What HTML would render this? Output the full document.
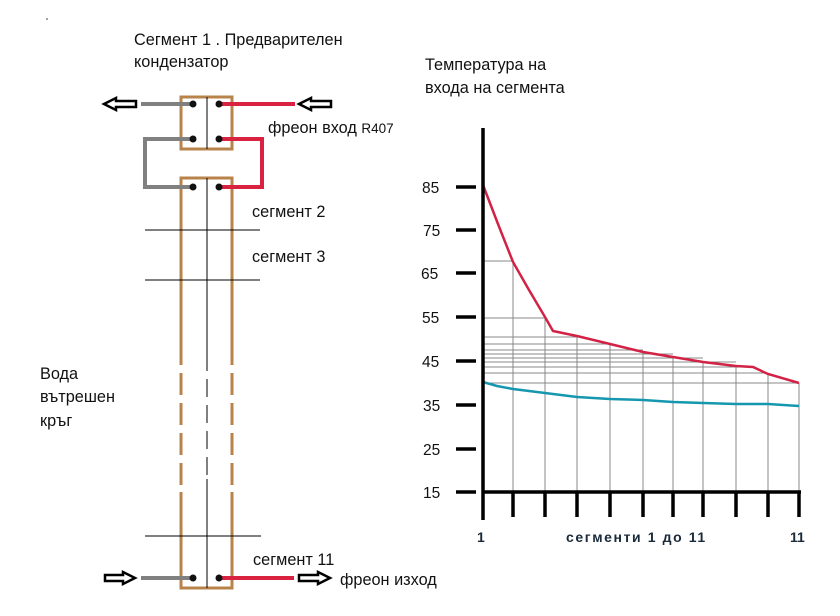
<!DOCTYPE html>
<html><head><meta charset="utf-8"><style>
body{margin:0;background:#fff;}
svg{display:block;font-family:"Liberation Sans","DejaVu Sans",sans-serif;}
</style></head><body>
<svg width="840" height="616" viewBox="0 0 840 616" xmlns="http://www.w3.org/2000/svg">
<rect width="840" height="616" fill="#fff"/>
<circle cx="47" cy="19" r="0.8" fill="#333"/>
<g font-size="16.3" fill="#111">
<text x="134" y="45">Сегмент 1 . Предварителен</text>
<text x="134" y="67">кондензатор</text>
<text x="425" y="70">Температура на</text>
<text x="425" y="93">входа на сегмента</text>
<text x="268" y="133">фреон вход <tspan font-size="13.5">R407</tspan></text>
<text x="252" y="217">сегмент 2</text>
<text x="252" y="262">сегмент 3</text>
<text x="40" y="379">Вода</text>
<text x="40" y="402">вътрешен</text>
<text x="40" y="426">кръг</text>
<text x="253" y="565">сегмент 11</text>
<text x="340" y="585">фреон изход</text>
</g>
<g fill="none" stroke="#b8834a" stroke-width="3">
<rect x="181" y="97" width="51" height="52"/>
<path d="M181 343 V178 H232 V343"/>
<path d="M181 492 V588 H232 V492"/>
<path d="M181 343 V490 M232 343 V490" stroke-dasharray="22 8"/>
</g>
<g stroke="#000" stroke-width="1" fill="none">
<line x1="207" y1="97" x2="207" y2="149"/>
<line x1="207" y1="178" x2="207" y2="353"/>
<line x1="207" y1="353" x2="207" y2="479" stroke-dasharray="18 8"/>
<line x1="207" y1="479" x2="207" y2="588"/>
<line x1="145" y1="230" x2="260" y2="230"/>
<line x1="145" y1="280" x2="260" y2="280"/>
<line x1="145" y1="536" x2="261" y2="536"/>
</g>
<g fill="none" stroke-width="4">
<path d="M141 104 H192" stroke="#808080"/>
<path d="M192 139 H145 V187 H192" stroke="#808080"/>
<path d="M141 578 H192" stroke="#808080"/>
<path d="M219 104 H295" stroke="#d8223f"/>
<path d="M219 139 H262 V187 H219" stroke="#d8223f"/>
<path d="M219 578 H294" stroke="#d8223f"/>
</g>
<g fill="#111">
<circle cx="193" cy="104" r="3.5"/><circle cx="219" cy="104" r="3.5"/>
<circle cx="193" cy="139" r="3.5"/><circle cx="219" cy="139" r="3.5"/>
<circle cx="193" cy="187" r="3.5"/><circle cx="219" cy="187" r="3.5"/>
<circle cx="193" cy="578" r="3.5"/><circle cx="219" cy="578" r="3.5"/>
</g>
<g fill="#fff" stroke="#000" stroke-width="2.5">
<path d="M104 104 L116 98 V101 H136 V107 H116 V110 Z"/>
<path d="M299 104 L311 98 V101 H331 V107 H311 V110 Z"/>
<path d="M135 578 L123 572 V575 H105 V581 H123 V584 Z"/>
<path d="M330 578 L318 572 V575 H299 V581 H318 V584 Z"/>
</g>
<g stroke="#888" stroke-width="1" fill="none">
<path d="M483 261 H513 M483 318 H545 M483 337 H577 M483 344 H610 M483 350 H643 M483 354 H673 M483 358 H703 M483 362 H736 M483 367 H753 M483 373 H768 M483 383 H799"/>
<path d="M513 261 V492 M545 318 V492 M577 336 V492 M610 344 V492 M643 352 V492 M673 357 V492 M703 362 V492 M736 366 V492 M768 374 V492 M799 383 V492"/>
</g>
<polyline fill="none" stroke="#d22245" stroke-width="2.5" points="483,185 498,224 513,262 529,290 545,317 553,331 577,336 610,344 643,352 673,357 703,362 736,366 753,367 768,374 799,383"/>
<polyline fill="none" stroke="#1597b0" stroke-width="2.5" points="483,382 497,386 513,389 545,393 577,397 610,399 643,400 673,402 703,403 736,404 768,404 799,406"/>
<g stroke="#000" stroke-width="3.5">
<line x1="483" y1="128" x2="483" y2="520"/>
<line x1="483" y1="492" x2="801" y2="492"/>
<path d="M456 187 H476 M456 230 H476 M456 273 H476 M456 317 H476 M456 361 H476 M456 405 H476 M456 449 H476 M456 492 H476"/>
<path d="M513 492 V517 M545 492 V517 M577 492 V517 M610 492 V517 M643 492 V517 M673 492 V517 M703 492 V517 M736 492 V517 M768 492 V517 M799 492 V517"/>
</g>
<g font-size="15.5" fill="#111">
<text x="422" y="193">85</text><text x="423" y="236">75</text>
<text x="421" y="279">65</text><text x="422" y="323">55</text>
<text x="422" y="367">45</text><text x="423" y="411">35</text>
<text x="423" y="455">25</text><text x="423" y="498">15</text>
</g>
<g font-size="14" font-weight="bold" fill="#1a2a3a">
<text x="477" y="542">1</text>
<text x="566" y="542" letter-spacing="1.6">сегменти 1 до 11</text>
<text x="790" y="542">11</text>
</g>
</svg>
</body></html>
